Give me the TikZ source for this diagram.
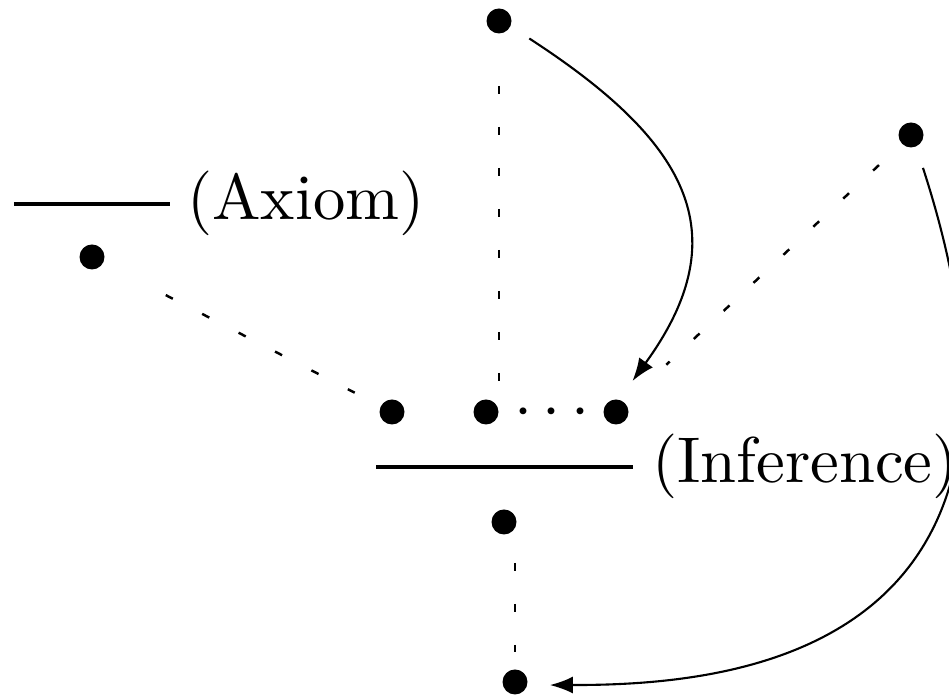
\documentclass[tikz,border=0pt]{standalone}
\usetikzlibrary{arrows.meta}
\begin{document}
\begin{tikzpicture}[every node/.style={font=\normalsize},
      dot/.style={circle, fill=black, inner sep=0pt, minimum size=0.25cm, outer sep=0.225cm},
      lbl/.style={anchor=base west, inner sep=0pt, scale=1.84},
      bar/.style={line width=1.3pt},
      dotline/.style={line width=0.7pt, dash pattern=on 0.08cm off 0.33cm},
      flow/.style={-{Latex[length=0.23cm,width=0.17cm]}, line width=0.6pt}]
    \clip (0,0) rectangle (9.49,6.96);
    \node[dot] (T) at (4.99,6.75) {};
    \node[dot] (R) at (9.11,5.61) {};
    \node[dot] (A) at (0.92,4.39) {};
    \node[dot] (P1) at (3.92,2.84) {};
    \node[dot] (P2) at (4.86,2.84) {};
    \node[dot] (P3) at (6.16,2.84) {};
    \node[anchor=base, inner sep=0pt, scale=1.84] (dots) at (5.52,2.68) {$\cdots$};
    \node[dot] (C) at (5.04,1.74) {};
    \node[dot] (B) at (5.15,0.14) {};
    \draw[bar] (0.14,4.92) -- (1.70,4.92);
    \node[lbl] (axlbl) at (1.86,4.76) {(Axiom)};
    \draw[bar] (3.76,2.29) -- (6.33,2.29);
    \node[lbl] (inflbl) at (6.51,2.13) {(Inference)};
    \draw[dotline, shorten <=0.83cm, shorten >=0.42cm] (A.center) -- (P1.center);
    \draw[dotline, shorten <=0.65cm, shorten >=0.30cm] (T.center) -- (T |- P2);
    \draw[dotline, shorten <=0.44cm, shorten >=0.69cm] (R.center) -- (P3.center);
    \draw[dotline, shorten <=0.41cm, shorten >=0.30cm] (C -| B) -- (B.center);
    \draw[flow] (T.-30) .. controls +(-33:1.85) and +(54:1.85) .. (P3.62);
    \draw[flow] (R.-70) .. controls +(-72:5.2) and +(0:1.7) .. (B.-5);
  \end{tikzpicture}
\end{document}
